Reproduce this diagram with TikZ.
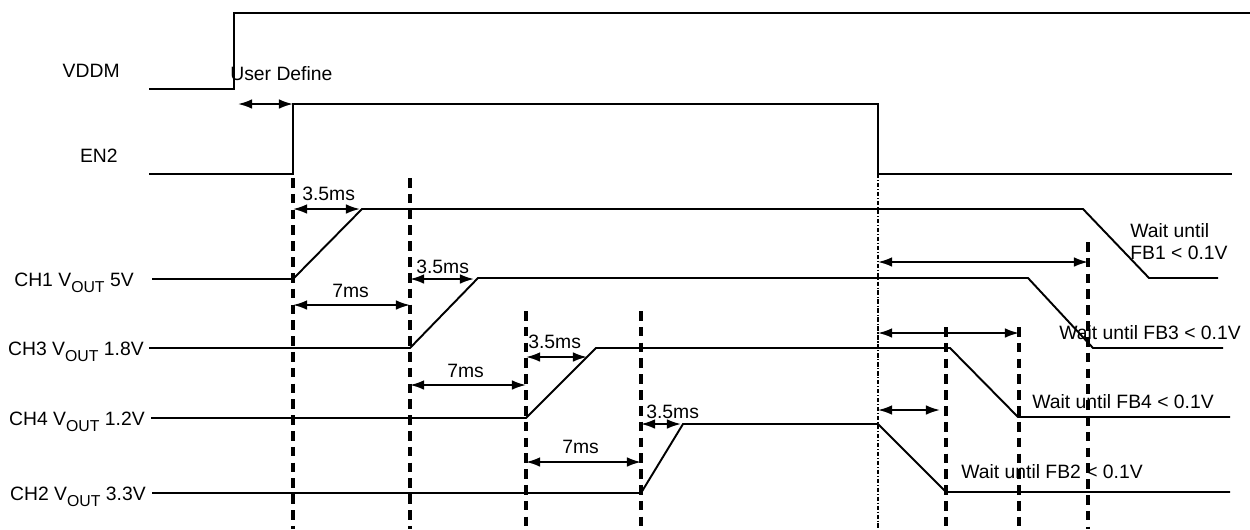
\documentclass[tikz,border=0pt]{standalone}
\usepackage{fontspec}
\setmainfont{Liberation Sans}
\usetikzlibrary{arrows.meta}

\newcommand{\vout}{V\raisebox{-0.6ex}{\fontsize{9}{10}\selectfont OUT}}

\tikzset{
  wave/.style={line width=1.1pt},
  guide/.style={line width=1.8pt,dash pattern=on 5.5pt off 3.5pt},
  marker/.style={line width=0.6pt,dash pattern=on 2.5pt off 1pt on 0.6pt off 1pt},
  span/.style={line width=1.1pt,{Latex[length=8pt,width=5.5pt]}-{Latex[length=8pt,width=5.5pt]}},
  lbl/.style={font=\fontsize{11}{13}\selectfont,inner sep=0pt},
}

\begin{document}
\begin{tikzpicture}[x=0.02cm,y=-0.02cm]
\useasboundingbox (0,0) rectangle (1250,529);
% signal names
\node[lbl,anchor=base east] (vddm) at (120,77) {VDDM};
\node[lbl,anchor=base east] (en2) at (118,162) {EN2};
\node[lbl,anchor=base east] (ch1) at (134,286) {CH1 \vout{} 5V};
\node[lbl,anchor=base east] (ch3) at (144,355) {CH3 \vout{} 1.8V};
\node[lbl,anchor=base east] (ch4) at (145,425) {CH4 \vout{} 1.2V};
\node[lbl,anchor=base east] (ch2) at (146,500) {CH2 \vout{} 3.3V};
% waveforms
\draw[wave] (149,89) -- (234,89) -- (234,13) -- (1250,13);
\draw[wave] (149,174) -- (293,174) -- (293,104) -- (878,104) -- (878,174) -- (1232,174);
\draw[wave] (152,279) -- (293,279) -- (362,209) -- (1083,209) -- (1149,278) -- (1218,278);
\draw[wave] (149,348) -- (410,348) -- (478,278) -- (1028,278) -- (1093,348) -- (1223,348);
\draw[wave] (151,418) -- (526,418) -- (596,348) -- (950,348) -- (1018,417) -- (1230,417);
\draw[wave] (152,493) -- (641,493) -- (683,424) -- (878,424) -- (946,492) -- (1230,492);
% time marks
\coordinate (bot) at (0,529);
\coordinate (g1) at (293,178);
\coordinate (g2) at (410,178);
\coordinate (g3) at (526,311);
\coordinate (g4) at (641,311);
\coordinate (g5) at (946,327);
\coordinate (g6) at (1019,327);
\coordinate (g7) at (1088,242);
\coordinate (off) at (878,174);
\draw[guide] (g1) -- (g1 |- bot);
\draw[guide] (g2) -- (g2 |- bot);
\draw[guide] (g3) -- (g3 |- bot);
\draw[guide] (g4) -- (g4 |- bot);
\draw[guide] (g5) -- (g5 |- bot);
\draw[guide] (g6) -- (g6 |- bot);
\draw[guide] (g7) -- (g7 |- bot);
\draw[marker] (off) -- (off |- bot);
% intervals
\coordinate (u0) at (238,104);  \coordinate (u1) at (293,104);
\coordinate (a0) at (293,209);  \coordinate (a1) at (360,209);
\coordinate (b0) at (293,305);  \coordinate (b1) at (410,305);
\coordinate (c0) at (410,279);  \coordinate (c1) at (474,279);
\coordinate (d0) at (410,385);  \coordinate (d1) at (526,385);
\coordinate (e0) at (526,357);  \coordinate (e1) at (587,357);
\coordinate (f0) at (526,462);  \coordinate (f1) at (641,462);
\coordinate (h0) at (641,424);  \coordinate (h1) at (681,424);
\coordinate (w1a) at (878,262); \coordinate (w1b) at (1088,262);
\coordinate (w3a) at (878,333); \coordinate (w3b) at (1019,333);
\coordinate (w4a) at (878,410); \coordinate (w4b) at (940,410);
\draw[span] (u0) -- (u1);
\draw[span] (a0) -- (a1);
\draw[span] (b0) -- (b1);
\draw[span] (c0) -- (c1);
\draw[span] (d0) -- (d1);
\draw[span] (e0) -- (e1);
\draw[span] (f0) -- (f1);
\draw[span] (h0) -- (h1);
\draw[span] (w1a) -- (w1b);
\draw[span] (w3a) -- (w3b);
\draw[span] (w4a) -- (w4b);
% interval labels
\node[lbl,anchor=base west] (udef) at (230,80) {User Define};
\node[lbl,anchor=base west] (ta) at (302,200) {3.5ms};
\node[lbl,anchor=base west] (tb) at (332,297) {7ms};
\node[lbl,anchor=base west] (tc) at (416,273) {3.5ms};
\node[lbl,anchor=base west] (td) at (447,377) {7ms};
\node[lbl,anchor=base west] (te) at (528,348) {3.5ms};
\node[lbl,anchor=base west] (tf) at (562,453) {7ms};
\node[lbl,anchor=base west] (th) at (646,418) {3.5ms};
\node[lbl,anchor=west,align=left] (fb1) at (1130,241.5) {Wait until\\FB1 < 0.1V};
\node[lbl,anchor=base west] (fb3) at (1059,339) {Wait until FB3 < 0.1V};
\node[lbl,anchor=base west] (fb4) at (1032,408) {Wait until FB4 < 0.1V};
\node[lbl,anchor=base west] (fb2) at (961,478) {Wait until FB2 < 0.1V};
\end{tikzpicture}
\end{document}
